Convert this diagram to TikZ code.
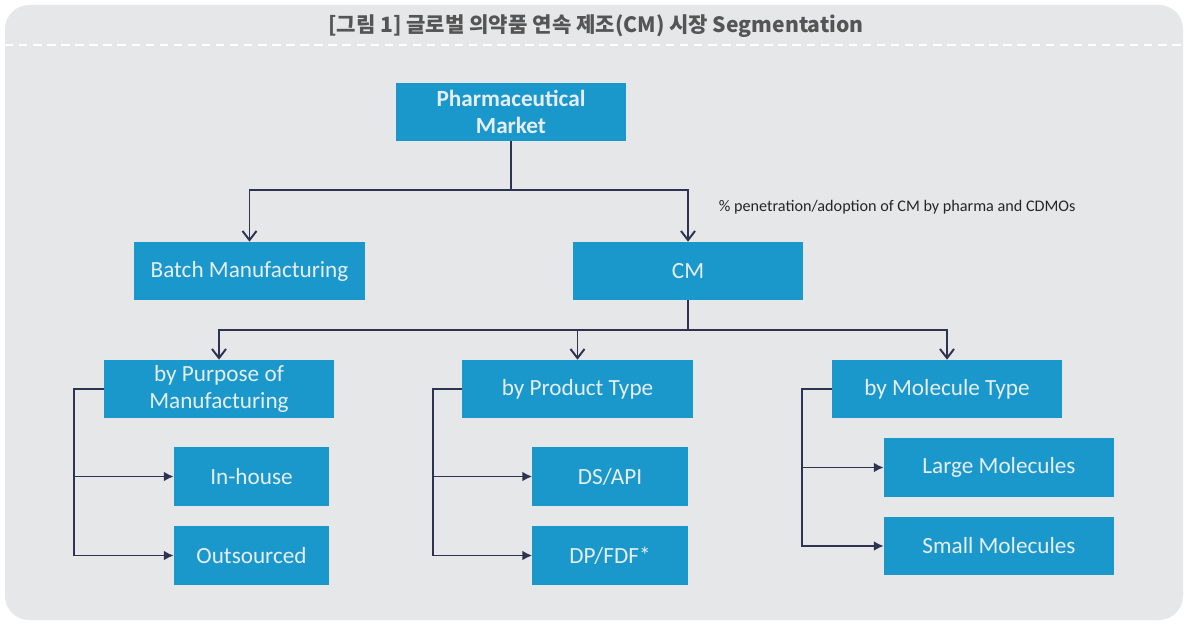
\documentclass[tikz,border=0pt]{standalone}
\usepackage{fontspec}
\setmainfont{Carlito}
\newfontfamily\cjk{Noto Sans CJK KR}
\usetikzlibrary{arrows.meta}
\definecolor{panelgray}{HTML}{E6E7E9}
\definecolor{segblue}{HTML}{1B98CB}
\definecolor{segtext}{HTML}{E4EEF4}
\definecolor{segline}{HTML}{2E3352}
\definecolor{titlegray}{HTML}{555555}
\tikzset{
	segbox/.style={fill=segblue, text=segtext, inner sep=0pt, minimum width=5.75cm, minimum height=1.45cm, align=center, font=\fontsize{16.5}{19}\selectfont},
	subbox/.style={segbox, minimum width=3.875cm, minimum height=1.475cm},
	link/.style={draw=segline, line width=1.4pt},
	downarrow/.style={link, -{Straight Barb[length=6.5pt,width=10pt]}},
	sidearrow/.style={link, -{Latex[length=7pt,width=7pt]}},
}
\begin{document}
\begin{tikzpicture}[x=0.025cm, y=-0.025cm]
			%%%%% PANEL %%%%%
			\useasboundingbox (0, 0) rectangle (1187, 624);
			\fill[white] (0, 0) rectangle (1187, 624);
			\fill[panelgray, rounded corners=0.6cm] (5, 5) rectangle (1183, 620);
			\draw[white, line width=1.4pt, dash pattern=on 6pt off 4pt] (5, 45) -- (1183, 45);
			\node[text=titlegray, font=\cjk\bfseries\fontsize{15}{18}\selectfont] (title) at (596, 26) {[그림 1] 글로벌 의약품 연속 제조(CM) 시장 Segmentation};
			
			%%%%% BOXES %%%%%
			\node[segbox, font=\bfseries\fontsize{16.5}{19}\selectfont] (pharma) at (511, 112) {Pharmaceutical\\Market};
			\node[segbox] (batch) at (249.5, 271) {Batch Manufacturing};
			\node[segbox] (cm) at (688, 271) {CM};
			\node[font=\fontsize{11.5}{13}\selectfont, text=black!85, anchor=west] (note) at (714, 207) {\% penetration/adoption of CM by pharma and CDMOs};
			
			\node[segbox] (purpose) at (219, 389) {by Purpose of\\Manufacturing};
			\node[segbox] (product) at (577.5, 389) {by Product Type};
			\node[segbox] (molecule) at (947, 389) {by Molecule Type};
			
			\node[subbox] (inhouse) at (251.5, 476.5) {In-house};
			\node[subbox] (outsourced) at (251.5, 555.5) {Outsourced};
			\node[subbox] (dsapi) at (610, 476.5) {DS/API};
			\node[subbox] (dpfdf) at (610, 555.5) {DP/FDF*};
			\node[segbox] (large) at (999, 467.5) {Large Molecules};
			\node[segbox] (small) at (999, 546) {Small Molecules};
			
			%%%%% LINKS %%%%%
			\coordinate (split1) at (511, 190);
			\draw[link] (pharma.south) -- (split1);
			\draw[downarrow] (split1) -| (batch.north);
			\draw[downarrow] (split1) -| (cm.north);
			
			\coordinate (split2) at (688, 330);
			\draw[link] (cm.south) -- (split2);
			\draw[downarrow] (split2) -| (purpose.north);
			\draw[downarrow] (split2) -| (product.north);
			\draw[downarrow] (split2) -| (molecule.north);
			
			\coordinate (rail1) at (74, 389);
			\draw[sidearrow] (purpose.west) -- (rail1) |- (outsourced.west);
			\draw[sidearrow] (rail1 |- inhouse.west) -- (inhouse.west);
			
			\coordinate (rail2) at (433, 389);
			\draw[sidearrow] (product.west) -- (rail2) |- (dpfdf.west);
			\draw[sidearrow] (rail2 |- dsapi.west) -- (dsapi.west);
			
			\coordinate (rail3) at (802, 389);
			\draw[sidearrow] (molecule.west) -- (rail3) |- (small.west);
			\draw[sidearrow] (rail3 |- large.west) -- (large.west);
\end{tikzpicture}
\end{document}
